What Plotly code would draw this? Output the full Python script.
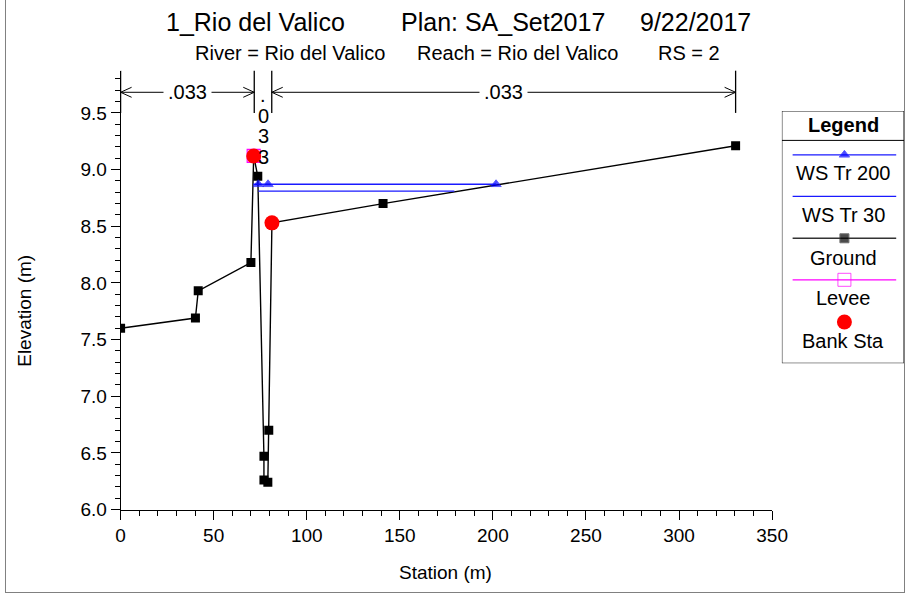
import plotly.graph_objects as go

# ---- cross-section data (station m, elevation m) ----
ground_x = [0, 40.2, 41.7, 70.0, 71.5, 73.7, 77.0, 77.0, 79.1, 79.6, 81.3, 141.0, 330.4]
ground_y = [7.60, 7.69, 7.93, 8.18, 9.12, 8.94, 6.47, 6.26, 6.24, 6.70, 8.53, 8.70, 9.21]

ws200_x = [71.2, 74.0, 79.2, 201.7]
ws200_y = [8.87, 8.87, 8.87, 8.87]

ws30_x = [74.0, 179.3]
ws30_y = [8.81, 8.81]

levee_x = [71.5]
levee_y = [9.12]

bank_x = [71.5, 81.3]
bank_y = [9.12, 8.53]

# Manning's n breaks and values
n_breaks = [0, 71.8, 81.2, 330.4]
n_values = [".033", ".033", ".033"]

x_ticks = [0, 50, 100, 150, 200, 250, 300, 350]
y_ticks = [6.0, 6.5, 7.0, 7.5, 8.0, 8.5, 9.0, 9.5]

W, H = 921, 604
FONT = "Liberation Sans, Arial, sans-serif"

# plot area in pixels
PX0, PX1 = 118.3, 785.0
PY_BOT, PY_TOP = 519.0, 72.0
PX_PER_M = (PX1 - PX0) / 350.0
PX_PER_ELEV = (519.0 - 115.0) / 3.5
Y_TOP = 6.0 + (PY_BOT - PY_TOP) / PX_PER_ELEV


def px(x):
    return x / W


def py(y):
    return 1 - y / H


fig = go.Figure()

fig.add_trace(go.Scatter(x=ground_x, y=ground_y, mode="lines+markers",
                         line=dict(color="black", width=1.4),
                         marker=dict(symbol="square", size=9, color="black"),
                         showlegend=False))
fig.add_trace(go.Scatter(x=ws30_x, y=ws30_y, mode="lines",
                         line=dict(color="#1a1aff", width=1.4), showlegend=False))
fig.add_trace(go.Scatter(x=ws200_x, y=ws200_y, mode="lines+markers",
                         line=dict(color="#1a1aff", width=1.4),
                         marker=dict(symbol="triangle-up", size=[0, 9, 9, 9], color="blue"),
                         showlegend=False))
fig.add_trace(go.Scatter(x=levee_x, y=levee_y, mode="markers",
                         marker=dict(symbol="square-open", size=13, color="magenta",
                                     line=dict(width=1.2)),
                         showlegend=False))
fig.add_trace(go.Scatter(x=bank_x, y=bank_y, mode="markers",
                         marker=dict(symbol="circle", size=15, color="red"),
                         showlegend=False))

shapes = []
annotations = []

# ---- Manning's n dimension lines ----
bar_top, bar_bot, arrow_y = py(72), py(115), py(94)
for xb in n_breaks:
    shapes.append(dict(type="line", xref="x", yref="paper", x0=xb, x1=xb,
                       y0=bar_bot, y1=bar_top, line=dict(color="black", width=1.3)))

for i, val in enumerate(n_values):
    xa, xb = n_breaks[i], n_breaks[i + 1]
    width_px = (xb - xa) * PX_PER_M
    if width_px > 60:
        shapes.append(dict(type="line", xref="x", yref="paper", x0=xa, x1=xb,
                           y0=arrow_y, y1=arrow_y, line=dict(color="black", width=1)))
        # open chevron heads pointing at each bar
        for anchor, sgn in ((xa, 1), (xb, -1)):
            for dy in (5, -5):
                shapes.append(dict(type="line", xref="x", yref="paper",
                                   xsizemode="pixel", xanchor=anchor,
                                   ysizemode="pixel", yanchor=arrow_y,
                                   x0=0, x1=sgn * 11, y0=0, y1=dy,
                                   line=dict(color="black", width=1)))
        annotations.append(dict(x=(xa + xb) / 2, y=arrow_y, xref="x", yref="paper",
                                text=val, showarrow=False, bgcolor="white", borderpad=4,
                                font=dict(size=20, color="black", family=FONT),
                                xanchor="center", yanchor="middle"))
    else:
        for k, ch in enumerate(val):
            annotations.append(dict(x=(xa + xb) / 2, y=py(97 + 21 * k), xref="x", yref="paper",
                                    text=ch, showarrow=False,
                                    font=dict(size=20, color="black", family=FONT),
                                    xanchor="center", yanchor="middle"))

# ---- titles ----
for text, cx, cy, size in [
    ("1_Rio del Valico", 256, 22, 25),
    ("Plan: SA_Set2017", 510, 22, 25),
    ("9/22/2017", 707, 22, 25),
    ("River = Rio del Valico", 292, 54, 20),
    ("Reach = Rio del Valico", 524, 54, 20),
    ("RS = 2", 700, 54, 20),
]:
    annotations.append(dict(x=px(cx), y=py(cy), xref="paper", yref="paper", text=text,
                            showarrow=False, xanchor="center", yanchor="middle",
                            font=dict(size=size, color="black", family=FONT)))

annotations.append(dict(x=px(451), y=py(583), xref="paper", yref="paper", text="Station (m)",
                        showarrow=False, xanchor="center", yanchor="middle",
                        font=dict(size=19, color="black", family=FONT)))
annotations.append(dict(x=px(20), y=py(317), xref="paper", yref="paper", text="Elevation (m)",
                        showarrow=False, xanchor="center", yanchor="middle", textangle=-90,
                        font=dict(size=19, color="black", family=FONT)))

# ---- legend panel (drawn on its own pixel-scaled axes) ----
LX0, LX1, LY0, LY1 = 795, 920, 113, 370
leg_items = [
    ("WS Tr 200", 157.7, 176.7, dict(line=dict(color="#1a1aff", width=1.4),
                                    marker=dict(symbol="triangle-up", size=[0, 9, 0], color="blue"))),
    ("WS Tr 30", 200.0, 219.0, dict(line=dict(color="#1a1aff", width=1.4),
                                    marker=dict(size=[0, 0, 0]))),
    ("Ground", 242.7, 262.7, dict(line=dict(color="#333333", width=1.4),
                                  marker=dict(symbol="square", size=[0, 9, 0], color="black"))),
    ("Levee", 285.0, 304.0, dict(line=dict(color="magenta", width=1.2),
                                 marker=dict(symbol="square-open", size=[0, 13, 0], color="magenta"))),
]
for name, ly, ty, style in leg_items:
    fig.add_trace(go.Scatter(x=[806, 859, 912], y=[ly, ly, ly], mode="lines+markers",
                             xaxis="x2", yaxis="y2", showlegend=False, hoverinfo="skip",
                             **style))
    annotations.append(dict(x=858, y=ty, xref="x2", yref="y2", text=name, showarrow=False,
                            xanchor="center", yanchor="middle",
                            font=dict(size=20, color="black", family=FONT)))
fig.add_trace(go.Scatter(x=[859], y=[328], mode="markers", xaxis="x2", yaxis="y2",
                         marker=dict(symbol="circle", size=15, color="red"),
                         showlegend=False, hoverinfo="skip"))
annotations.append(dict(x=858, y=347, xref="x2", yref="y2", text="Bank Sta", showarrow=False,
                        xanchor="center", yanchor="middle",
                        font=dict(size=20, color="black", family=FONT)))
annotations.append(dict(x=858, y=127, xref="x2", yref="y2", text="<b>Legend</b>", showarrow=False,
                        xanchor="center", yanchor="middle",
                        font=dict(size=20, color="black", family=FONT)))
shapes.append(dict(type="rect", xref="x2", yref="y2", x0=LX0, x1=LX1, y0=LY0, y1=LY1,
                   line=dict(color="black", width=1)))
shapes.append(dict(type="line", xref="x2", yref="y2", x0=LX0, x1=LX1, y0=143, y1=143,
                   line=dict(color="black", width=1)))

# outer frame
for x0, y0, x1, y1 in [(0.5, 0, 0.5, 603.5), (920.5, 0, 920.5, 603.5), (0, 603.5, 921, 603.5)]:
    shapes.append(dict(type="line", xref="paper", yref="paper", x0=px(x0), x1=px(x1),
                       y0=py(y0), y1=py(y1), line=dict(color="#808080", width=1)))

axis_common = dict(showgrid=False, zeroline=False, showline=True, linecolor="black",
                   linewidth=1, ticks="outside", ticklen=9, tickwidth=1, tickcolor="black",
                   tickfont=dict(size=19, color="black", family=FONT))

fig.update_layout(
    width=W, height=H, autosize=False,
    margin=dict(l=0, r=0, t=0, b=0),
    paper_bgcolor="white", plot_bgcolor="white",
    xaxis=dict(domain=[px(PX0), px(PX1)], range=[0, 350], tickvals=x_ticks,
               minor=dict(dtick=10, tick0=0, ticks="outside", ticklen=5, tickcolor="black"),
               **axis_common),
    yaxis=dict(domain=[py(PY_BOT), py(PY_TOP)], range=[6.0, Y_TOP], tickvals=y_ticks,
               ticktext=[f"{v:.1f}" for v in y_ticks],
               minor=dict(dtick=0.1, tick0=6.0, ticks="outside", ticklen=5, tickcolor="black"),
               **axis_common),
    xaxis2=dict(domain=[px(LX0), px(LX1)], range=[LX0, LX1], visible=False, anchor="y2"),
    yaxis2=dict(domain=[py(LY1), py(LY0)], range=[LY1, LY0], visible=False, anchor="x2"),
    shapes=shapes,
    annotations=annotations,
    showlegend=False,
    font=dict(family=FONT, color="black"),
)

fig.write_html("out.html")
